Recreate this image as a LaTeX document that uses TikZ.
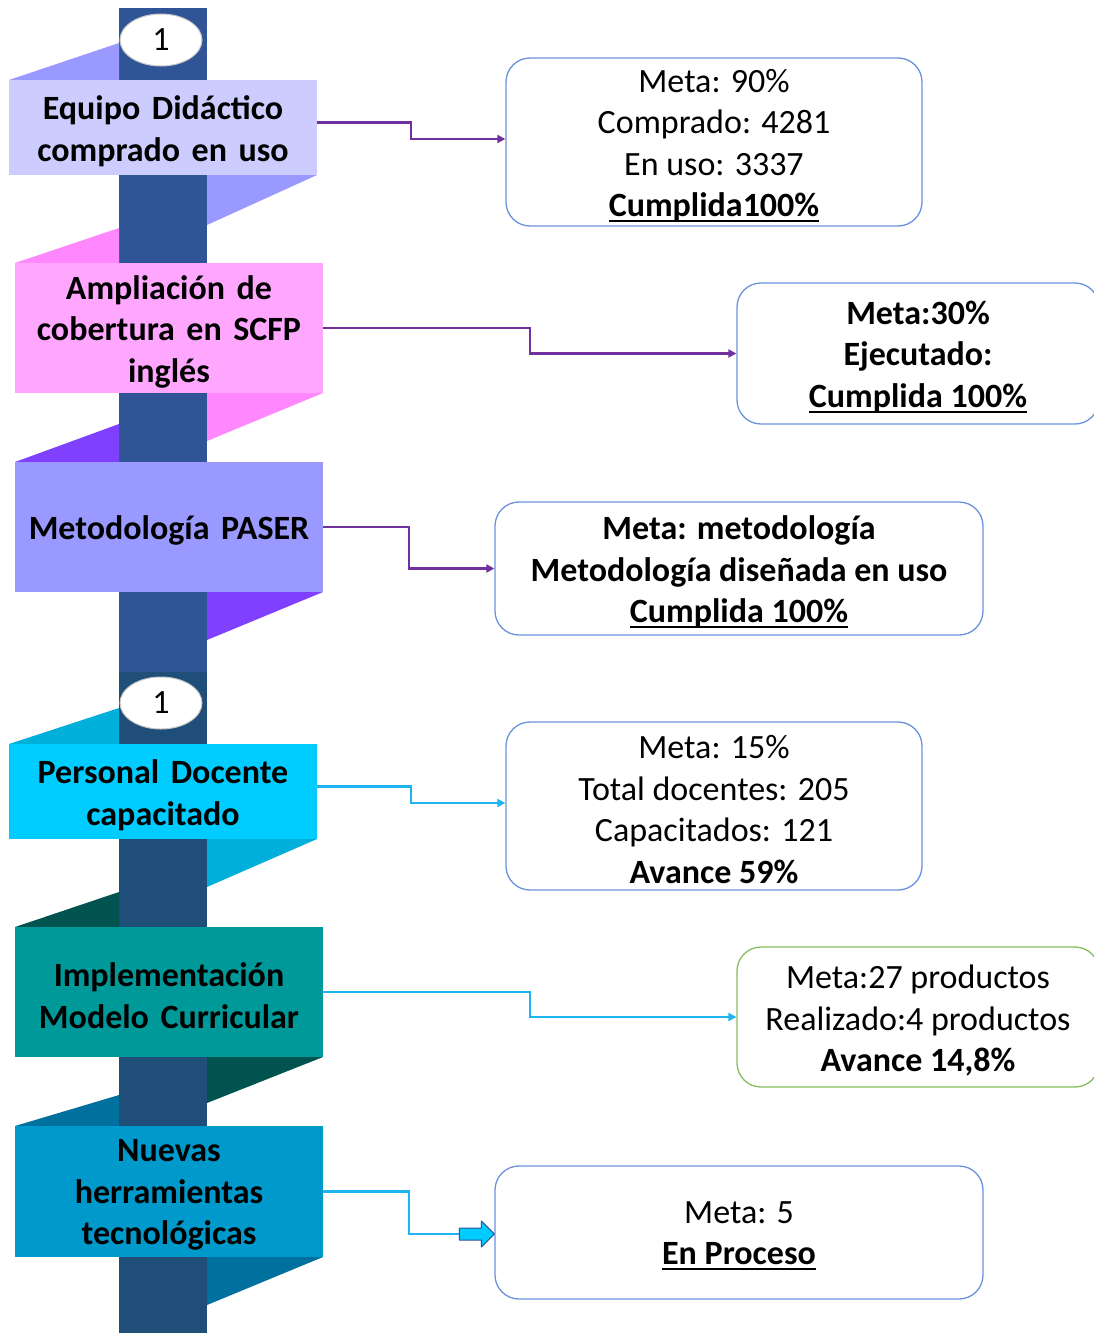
\documentclass[tikz,border=0pt]{standalone}
\usepackage{fontspec}
\setmainfont{Carlito}
\newcommand{\myul}[1]{\setbox0\hbox{#1}\leavevmode\rlap{\rule[-5.5pt]{\wd0}{2.2pt}}\box0}
\usetikzlibrary{shapes.geometric,arrows.meta,calc}
\definecolor{barA}{HTML}{2F5597}
\definecolor{barB}{HTML}{1F4E79}
\definecolor{fA}{HTML}{CCCCFF}\definecolor{tA}{HTML}{9999FF}
\definecolor{fB}{HTML}{FFA6FF}\definecolor{tB}{HTML}{FF88FF}
\definecolor{fC}{HTML}{9999FF}\definecolor{tC}{HTML}{8040FF}
\definecolor{fD}{HTML}{00CCFF}\definecolor{tD}{HTML}{00B0DA}
\definecolor{fE}{HTML}{009999}\definecolor{tE}{HTML}{00534F}
\definecolor{fF}{HTML}{0099CC}\definecolor{tF}{HTML}{00719E}
\definecolor{rbord}{HTML}{6A93DB}
\definecolor{gbord}{HTML}{84BE5E}
\definecolor{purp}{HTML}{7030A0}
\definecolor{lblue}{HTML}{1EB4F0}
\begin{document}
\begin{tikzpicture}[x=1pt,y=-1pt,
  lbox/.style={rectangle, inner sep=0pt, minimum width=308pt},
  ltext/.style={align=center, inner sep=0pt,
    font=\fontsize{34}{41.5}\selectfont\bfseries, text=black,
    execute at begin node={\spaceskip=.34em\relax}},
  rbox/.style={draw=rbord, line width=1.3pt, rounded corners=24pt, inner sep=0pt, fill=white},
  rtext/.style={align=center, inner sep=0pt, font=\fontsize{34}{41.5}\selectfont},
  rbtext/.style={align=center, inner sep=0pt, font=\fontsize{34}{41.5}\selectfont\bfseries},
  num/.style={ellipse, fill=white, draw=gray!45, line width=1pt, minimum width=82pt,
    minimum height=52pt, inner sep=0pt, font=\fontsize{34}{41}\selectfont},
  conn/.style={line width=2.4pt, -{Triangle[length=8pt,width=8pt]}}
]
\clip (0,0) rectangle (1094,1333);
\fill[white] (0,0) rectangle (1094,1333);
% vertical bar
\fill[barA] (119,8) rectangle (207,672);
\fill[barB] (119,672) rectangle (207,1333);
% fold triangles
\fill[tA] (9,80) -- (119,43) -- (119,80) -- cycle;
\fill[tA] (317,175) -- (207,225) -- (207,175) -- cycle;
\fill[tB] (15,263) -- (119,228) -- (119,263) -- cycle;
\fill[tB] (323,393) -- (207,441) -- (207,393) -- cycle;
\fill[tC] (15,462) -- (119,424) -- (119,462) -- cycle;
\fill[tC] (323,592) -- (207,640) -- (207,592) -- cycle;
\fill[tD] (9,744) -- (119,708) -- (119,744) -- cycle;
\fill[tD] (317,839) -- (207,887) -- (207,839) -- cycle;
\fill[tE] (15,927) -- (119,892) -- (119,927) -- cycle;
\fill[tE] (323,1057) -- (207,1103) -- (207,1057) -- cycle;
\fill[tF] (15,1126) -- (119,1095) -- (119,1126) -- cycle;
\fill[tF] (323,1257) -- (207,1305) -- (207,1257) -- cycle;
% number ellipses
\node[num] (n1) at (161,40) {1};
\node[num] (n2) at (161,703) {1};
% left boxes
\node[lbox, fill=fA, minimum height=95pt] (b1) at (163,127.5) {};
\node[lbox, fill=fB, minimum height=130pt] (b2) at (169,328) {};
\node[lbox, fill=fC, minimum height=130pt] (b3) at (169,527) {};
\node[lbox, fill=fD, minimum height=95pt] (b4) at (163,791.5) {};
\node[lbox, fill=fE, minimum height=130pt] (b5) at (169,992) {};
\node[lbox, fill=fF, minimum height=131pt] (b6) at (169,1191.5) {};
\node[ltext] (b1t) at ($(b1.center)+(0,3.5)$) {Equipo Didáctico\\comprado en uso};
\node[ltext] (b2t) at ($(b2.center)+(0,3.5)$) {Ampliación de\\cobertura en SCFP\\inglés};
\node[ltext] (b3t) at ($(b3.center)+(0,3.5)$) {Metodología PASER};
\node[ltext] (b4t) at ($(b4.center)+(0,3.5)$) {Personal Docente\\capacitado};
\node[ltext] (b5t) at ($(b5.center)+(0,3.5)$) {Implementación\\Modelo Curricular};
\node[ltext] (b6t) at ($(b6.center)+(0,3.5)$) {Nuevas\\herramientas\\tecnológicas};
% right boxes
\node[rbox, minimum width=416pt, minimum height=168pt] (r1) at (714,142) {};
\node[rbox, minimum width=362pt, minimum height=141pt] (r2) at (918,353.5) {};
\node[rbox, minimum width=488pt, minimum height=133pt] (r3) at (739,568.5) {};
\node[rbox, minimum width=416pt, minimum height=168pt] (r4) at (714,806) {};
\node[rbox, draw=gbord, minimum width=362pt, minimum height=140pt] (r5) at (918,1017) {};
\node[rbox, minimum width=488pt, minimum height=133pt] (r6) at (739,1232.5) {};
\node[rtext] (r1t) at ($(r1.center)+(0,3.5)$) {Meta: 90\%\\Comprado: 4281\\En uso: 3337\\\textbf{\myul{Cumplida100\%}}};
\node[rbtext] (r2t) at ($(r2.center)+(0,3.5)$) {Meta:30\%\\Ejecutado:\\\myul{Cumplida 100\%}};
\node[rbtext] (r3t) at ($(r3.center)+(0,3.5)$) {Meta: metodología\\Metodología diseñada en uso\\\myul{Cumplida 100\%}};
\node[rtext] (r4t) at ($(r4.center)+(0,3.5)$) {Meta: 15\%\\Total docentes: 205\\Capacitados: 121\\\textbf{Avance 59\%}};
\node[rtext] (r5t) at ($(r5.center)+(0,3.5)$) {Meta:27 productos\\Realizado:4 productos\\\textbf{Avance 14,8\%}};
\node[rtext] (r6t) at ($(r6.center)+(0,3.5)$) {Meta: 5\\\textbf{\myul{En Proceso}}};
% connectors
\draw[conn, purp] ($(b1.east)+(0,-5)$) -| ($(b1.east)!.5!(r1.west)$) |- ($(r1.west)+(0,-3)$);
\draw[conn, purp] (b2.east) -| ($(b2.east)!.5!(r2.west)$) |- (r2.west);
\draw[conn, purp] (b3.east) -| ($(b3.east)!.5!(r3.west)$) |- (r3.west);
\draw[conn, lblue] ($(b4.east)+(0,-5)$) -| ($(b4.east)!.5!(r4.west)$) |- ($(r4.west)+(0,-3)$);
\draw[conn, lblue] (b5.east) -| ($(b5.east)!.5!(r5.west)$) |- (r5.west);
\coordinate (bt) at ($(r6.west)+(-35,1.5)$);
\draw[lblue, line width=2.4pt] (b6.east) -| ($(b6.east)!.5!(r6.west)$) |- (bt);
\draw[fill=fD, draw=barA, line width=1pt, line join=round]
  ($(bt)+(0,-6)$) -- ($(bt)+(22,-6)$) -- ($(bt)+(22,-13)$) -- ($(bt)+(35,0)$)
  -- ($(bt)+(22,13)$) -- ($(bt)+(22,6)$) -- ($(bt)+(0,6)$) -- cycle;
\end{tikzpicture}
\end{document}
